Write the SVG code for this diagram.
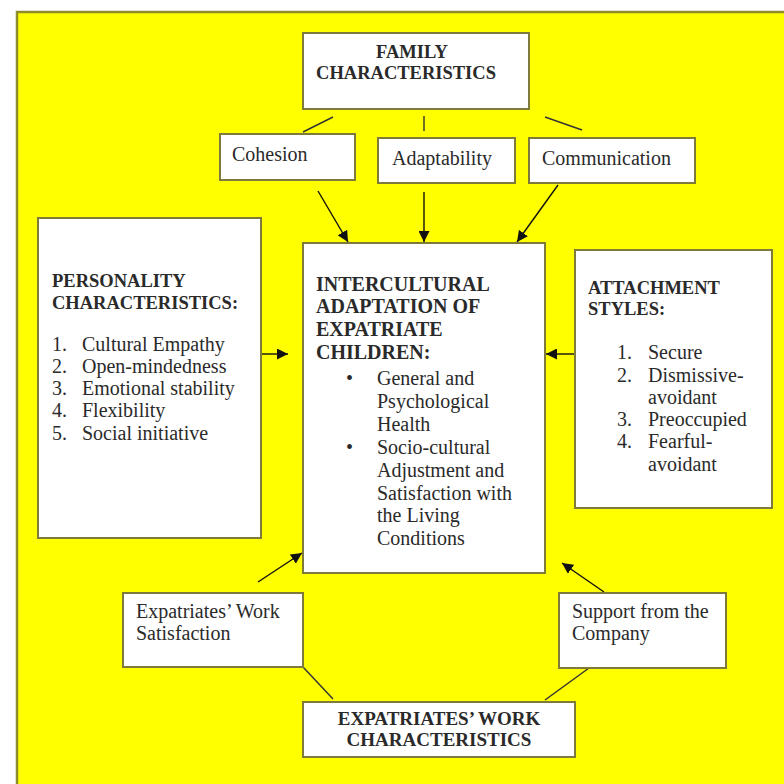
<svg xmlns="http://www.w3.org/2000/svg" width="784" height="784" viewBox="0 0 784 784">
<style>
.box{fill:#ffffff;stroke:#7d7a3a;stroke-width:2}
.t{font-family:"Liberation Serif","Times New Roman",serif;font-size:20px;fill:#2a2a2a}
.b{font-weight:bold}
.h{font-size:18.5px}
.ln{stroke:#333;stroke-width:1.4;fill:none}
.ar{stroke:#111;stroke-width:1.4;fill:none;marker-end:url(#ah)}
</style>
<defs>
<marker id="ah" viewBox="0 0 10 10" refX="10" refY="5" markerWidth="11" markerHeight="11" markerUnits="userSpaceOnUse" orient="auto">
<path d="M0,0 L10,5 L0,10 z" fill="#111"/>
</marker>
</defs>
<rect x="0" y="0" width="784" height="784" fill="#ffffff"/>
<rect x="17" y="12" width="780" height="790" fill="#ffff00" stroke="#8f8c2c" stroke-width="2.5"/>

<g id="connectors">
<line class="ln" x1="333" y1="117" x2="303" y2="132"/>
<line class="ln" x1="424" y1="116" x2="424" y2="131"/>
<line class="ln" x1="545" y1="117" x2="582" y2="130"/>
<line class="ar" x1="318" y1="191" x2="348" y2="242"/>
<line class="ar" x1="424" y1="192" x2="424" y2="242"/>
<line class="ar" x1="558" y1="185" x2="517" y2="242"/>
<line class="ar" x1="261" y1="354" x2="288" y2="354"/>
<line class="ar" x1="575" y1="354" x2="546" y2="354"/>
<line class="ar" x1="258" y1="582" x2="302" y2="553"/>
<line class="ar" x1="604" y1="592" x2="562" y2="563"/>
<line class="ln" x1="303" y1="667" x2="333" y2="699"/>
<line class="ln" x1="589" y1="668" x2="545" y2="700"/>
</g>

<g id="family">
<rect class="box" x="303" y="33" width="226" height="76"/>
<text class="t b h" x="412" y="58" text-anchor="middle">FAMILY</text>
<text class="t b h" x="406" y="79" text-anchor="middle">CHARACTERISTICS</text>
</g>

<g id="cohesion">
<rect class="box" x="220" y="134" width="135" height="46"/>
<text class="t" x="232" y="161">Cohesion</text>
</g>

<g id="adaptability">
<rect class="box" x="378" y="138" width="137" height="45"/>
<text class="t" x="392" y="165">Adaptability</text>
</g>

<g id="communication">
<rect class="box" x="529" y="138" width="166" height="45"/>
<text class="t" x="542" y="165">Communication</text>
</g>

<g id="personality">
<rect class="box" x="38" y="218" width="223" height="320"/>
<text class="t b h" x="52" y="287">PERSONALITY</text>
<text class="t b h" x="52" y="309">CHARACTERISTICS:</text>
<text class="t" x="52" y="351">1.</text><text class="t" x="82" y="351">Cultural Empathy</text>
<text class="t" x="52" y="373">2.</text><text class="t" x="82" y="373">Open-mindedness</text>
<text class="t" x="52" y="395">3.</text><text class="t" x="82" y="395">Emotional stability</text>
<text class="t" x="52" y="417">4.</text><text class="t" x="82" y="417">Flexibility</text>
<text class="t" x="52" y="440">5.</text><text class="t" x="82" y="440">Social initiative</text>
</g>

<g id="central">
<rect class="box" x="303" y="243" width="242" height="330"/>
<text class="t b" x="316" y="291">INTERCULTURAL</text>
<text class="t b" x="316" y="313">ADAPTATION OF</text>
<text class="t b" x="316" y="336">EXPATRIATE</text>
<text class="t b" x="316" y="359">CHILDREN:</text>
<text class="t" x="346" y="385">•</text>
<text class="t" x="377" y="385">General and</text>
<text class="t" x="377" y="408">Psychological</text>
<text class="t" x="377" y="431">Health</text>
<text class="t" x="346" y="454">•</text>
<text class="t" x="377" y="454">Socio-cultural</text>
<text class="t" x="377" y="477">Adjustment and</text>
<text class="t" x="377" y="500">Satisfaction with</text>
<text class="t" x="377" y="522">the Living</text>
<text class="t" x="377" y="545">Conditions</text>
</g>

<g id="attachment">
<rect class="box" x="575" y="250" width="197" height="258"/>
<text class="t b h" x="588" y="294">ATTACHMENT</text>
<text class="t b h" x="588" y="315">STYLES:</text>
<text class="t" x="617" y="359">1.</text><text class="t" x="648" y="359">Secure</text>
<text class="t" x="617" y="382">2.</text><text class="t" x="648" y="382">Dismissive-</text>
<text class="t" x="648" y="404">avoidant</text>
<text class="t" x="617" y="426">3.</text><text class="t" x="648" y="426">Preoccupied</text>
<text class="t" x="617" y="448">4.</text><text class="t" x="648" y="448">Fearful-</text>
<text class="t" x="648" y="471">avoidant</text>
</g>

<g id="work-satisfaction">
<rect class="box" x="123" y="593" width="180" height="74"/>
<text class="t" x="136" y="618">Expatriates’ Work</text>
<text class="t" x="136" y="640">Satisfaction</text>
</g>

<g id="support">
<rect class="box" x="559" y="593" width="167" height="75"/>
<text class="t" x="572" y="618">Support from the</text>
<text class="t" x="572" y="640">Company</text>
</g>

<g id="work-characteristics">
<rect class="box" x="303" y="702" width="272" height="55"/>
<text class="t b" x="439" y="725" text-anchor="middle" style="font-size:19px">EXPATRIATES’ WORK</text>
<text class="t b" x="439" y="746" text-anchor="middle" style="font-size:19px">CHARACTERISTICS</text>
</g>
</svg>
